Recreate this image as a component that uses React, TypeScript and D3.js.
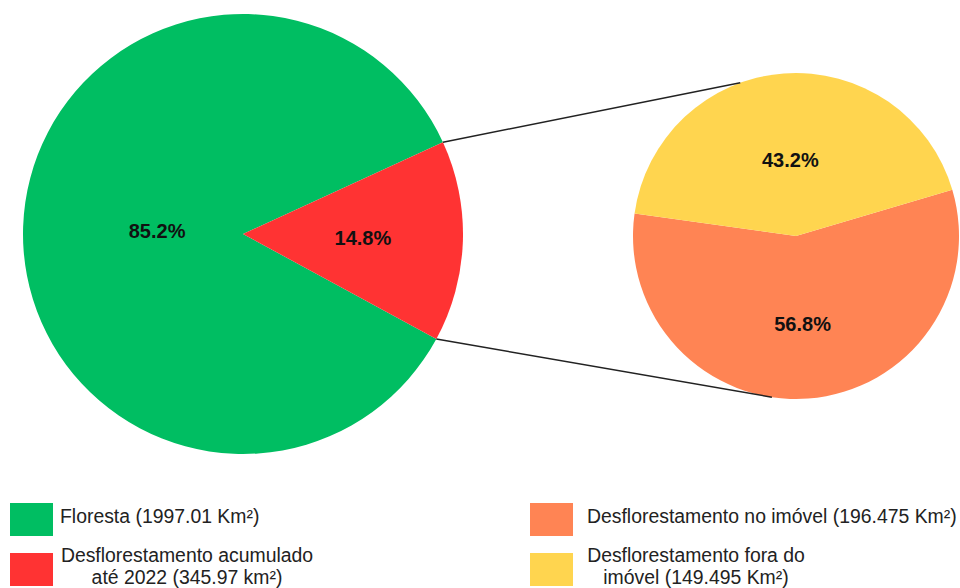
import React from "react";
import { arc, pie, PieArcDatum } from "d3";

// main pie: forest vs accumulated deforestation
const mainLabels = ["Floresta (1997.01 Km²)", "Desflorestamento acumulado|até 2022 (345.97 km²)"];
const mainValues = [1997.01, 345.97];
const mainColors = ["#00BE62", "#FF3333"];

// detail pie: split of the deforested area
const detailLabels = ["Desflorestamento no imóvel (196.475 Km²)", "Desflorestamento fora do|imóvel (149.495 Km²)"];
const detailValues = [196.475, 149.495];
const detailColors = ["#FF8454", "#FFD54F"];

const WIDTH = 960;
const HEIGHT = 588;
const deg = Math.PI / 180;

const fmtPct = (d: PieArcDatum<number>, total: number) =>
  `${((d.value / total) * 100).toFixed(1)}%`;

export default function App() {
  const mainCenter = [243, 234];
  const mainR = 220;
  const detailCenter = [796, 236];
  const detailR = 163;

  const mainPie = pie<number>()
    .sort(null)
    .startAngle(118.5 * deg)
    .endAngle(118.5 * deg + 2 * Math.PI);
  const detailPie = pie<number>()
    .sort(null)
    .startAngle(73.5 * deg)
    .endAngle(73.5 * deg + 2 * Math.PI);

  const mainArcs = mainPie(mainValues);
  const detailArcs = detailPie(detailValues);
  const mainTotal = mainValues.reduce((a, b) => a + b, 0);
  const detailTotal = detailValues.reduce((a, b) => a + b, 0);

  const mainArc = arc<PieArcDatum<number>>().innerRadius(0).outerRadius(mainR);
  const detailArc = arc<PieArcDatum<number>>().innerRadius(0).outerRadius(detailR);

  // label radii differ per slice in the original
  const mainLabelR = [86, 120];
  const detailLabelR = [88, 76];

  const polar = (c: number[], r: number, a: number) => [
    c[0] + r * Math.sin(a),
    c[1] - r * Math.cos(a),
  ];

  // connectors from the red slice edges to the detail pie
  const red = mainArcs[1];
  const p1 = polar(mainCenter, mainR, red.startAngle);
  const p2 = polar(mainCenter, mainR, red.endAngle);
  const q1 = polar(detailCenter, detailR, -20 * deg);
  const q2 = polar(detailCenter, detailR, 188.5 * deg);

  const legend = (
    labels: string[],
    colors: string[],
    x: number,
    tx: number,
    centers: number[]
  ) =>
    labels.map((l, i) => {
      const lines = l.split("|");
      const y = 503 + i * 50;
      return (
        <g key={l}>
          <rect x={x} y={y} width={43} height={33} fill={colors[i]} />
          {lines.length === 1 ? (
            <text x={tx} y={y + 20} fontSize={19.4}>
              {lines[0]}
            </text>
          ) : (
            <text x={centers[i]} y={y + 9} fontSize={19.4} textAnchor="middle">
              {lines.map((t, j) => (
                <tspan key={j} x={centers[i]} dy={j === 0 ? 0 : 21.5}>
                  {t}
                </tspan>
              ))}
            </text>
          )}
        </g>
      );
    });

  return (
    <svg
      width={WIDTH}
      height={HEIGHT}
      style={{ position: "absolute", left: 0, top: 0, background: "#fff" }}
      fontFamily="'Liberation Sans', Arial, sans-serif"
    >
      <g transform={`translate(${mainCenter[0]},${mainCenter[1]})`}>
        {mainArcs.map((d, i) => (
          <path key={i} d={mainArc(d)!} fill={mainColors[i]} />
        ))}
        {mainArcs.map((d, i) => {
          const a = (d.startAngle + d.endAngle) / 2;
          return (
            <text
              key={i}
              x={mainLabelR[i] * Math.sin(a)}
              y={-mainLabelR[i] * Math.cos(a)}
              dy="0.35em"
              textAnchor="middle"
              fontWeight="bold"
              fontSize={20}
              fill="#111"
            >
              {fmtPct(d, mainTotal)}
            </text>
          );
        })}
      </g>

      <g transform={`translate(${detailCenter[0]},${detailCenter[1]})`}>
        {detailArcs.map((d, i) => (
          <path key={i} d={detailArc(d)!} fill={detailColors[i]} />
        ))}
        {detailArcs.map((d, i) => {
          const a = (d.startAngle + d.endAngle) / 2;
          return (
            <text
              key={i}
              x={detailLabelR[i] * Math.sin(a)}
              y={-detailLabelR[i] * Math.cos(a)}
              dy="0.35em"
              textAnchor="middle"
              fontWeight="bold"
              fontSize={20}
              fill="#111"
            >
              {fmtPct(d, detailTotal)}
            </text>
          );
        })}
      </g>

      <line x1={p1[0]} y1={p1[1]} x2={q1[0]} y2={q1[1]} stroke="#222" strokeWidth={1.5} />
      <line x1={p2[0]} y1={p2[1]} x2={q2[0]} y2={q2[1]} stroke="#222" strokeWidth={1.5} />

      <g fill="#222">
        {legend(mainLabels, mainColors, 10, 60, [0, 187])}
        {legend(detailLabels, detailColors, 530, 587, [0, 696])}
      </g>
    </svg>
  );
}
